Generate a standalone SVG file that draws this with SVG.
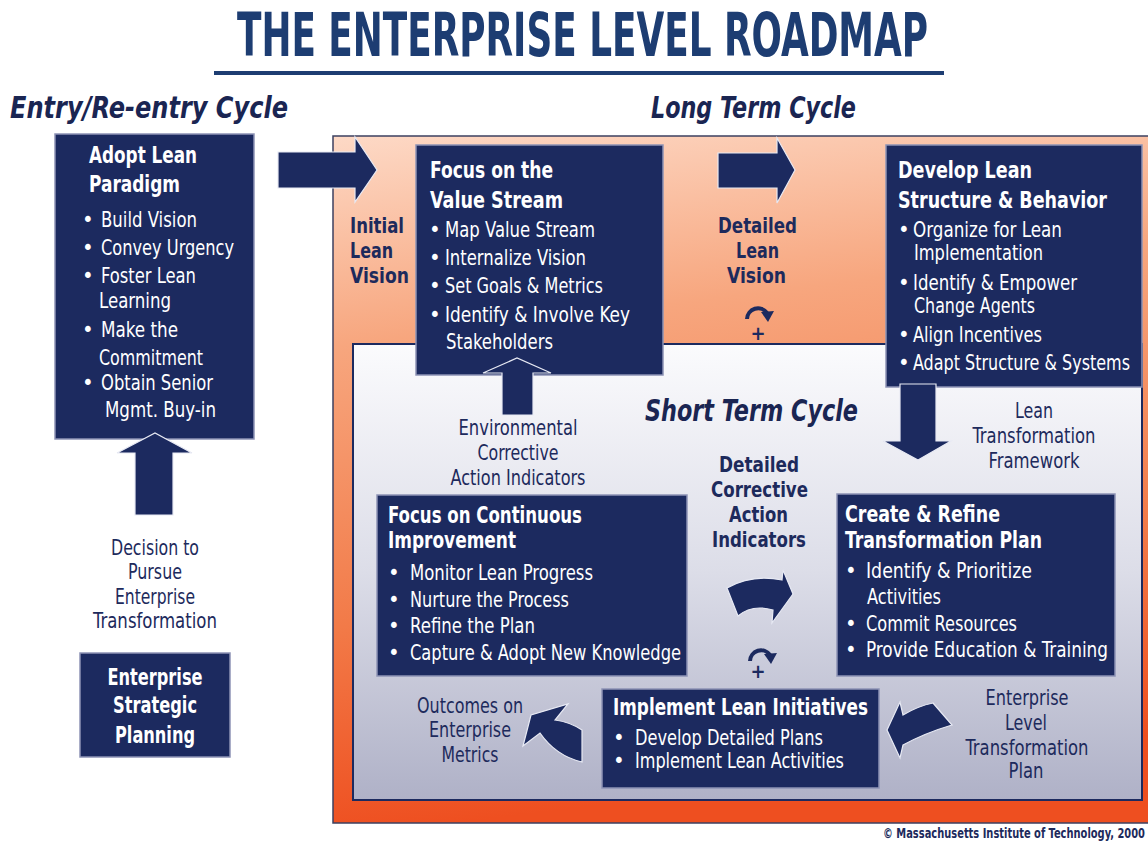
<svg xmlns="http://www.w3.org/2000/svg" width="1148" height="841" viewBox="0 0 1148 841">
<defs>
<linearGradient id="orange" x1="0" y1="0" x2="0.15" y2="1">
<stop offset="0" stop-color="#fdd9c6"/>
<stop offset="0.3" stop-color="#f7a67e"/>
<stop offset="0.7" stop-color="#f27a48"/>
<stop offset="1" stop-color="#ee4f20"/>
</linearGradient>
<linearGradient id="grey" x1="0" y1="0" x2="0" y2="1">
<stop offset="0" stop-color="#fbfbfd"/>
<stop offset="0.5" stop-color="#dcdde8"/>
<stop offset="1" stop-color="#afb1c7"/>
</linearGradient>
<style>
text{font-family:"Liberation Sans Narrow","DejaVu Sans Condensed","Liberation Sans",sans-serif}
.node{fill:#1c2a5f;stroke:#8d93b5;stroke-width:1.5}
.nt{font-weight:bold;font-size:23px;fill:#ffffff}
.nb{font-size:22px;fill:#ffffff}
.ns{font-size:21px;fill:#ffffff}
.bu{font-size:22px;fill:#ffffff}
.lbl{font-size:22px;fill:#1d2a5c;text-anchor:middle}
.blbl{font-weight:bold;font-size:20.5px;fill:#1d2a5c}
.cyc{font-weight:bold;font-style:italic;font-size:31px;fill:#1a2552}
.arrow{fill:#1c2a5f;stroke:#e8eaf4;stroke-width:1.2;stroke-linejoin:miter}
.arc{fill:none;stroke:#1c2a5f;stroke-width:4}
.plus{font-weight:bold;font-size:20px;fill:#1c2a5f;text-anchor:middle}
</style>
</defs>
<rect x="0" y="0" width="1148" height="841" fill="#ffffff"/>

<g id="title">
<text transform="translate(237,56) scale(1,1.15)" x="0" y="0" font-size="52" font-weight="bold" fill="#1d3d72" textLength="691" lengthAdjust="spacingAndGlyphs">THE ENTERPRISE LEVEL ROADMAP</text>
<rect x="214" y="71" width="730" height="4" fill="#1d3d72"/>
<text class="cyc" x="10" y="118" textLength="278" lengthAdjust="spacingAndGlyphs">Entry/Re-entry Cycle</text>
<text class="cyc" x="651" y="118" textLength="205" lengthAdjust="spacingAndGlyphs">Long Term Cycle</text>
</g>

<g id="long-term-cycle">
<rect x="333" y="136" width="820" height="687" fill="url(#orange)" stroke="#3c4060" stroke-width="1.5"/>
</g>
<g id="short-term-cycle">
<rect x="353" y="344" width="789" height="456" fill="url(#grey)" stroke="#1c2a5f" stroke-width="2"/>
<text class="cyc" x="645" y="421" textLength="213" lengthAdjust="spacingAndGlyphs">Short Term Cycle</text>
</g>

<g id="labels">
<text class="blbl" x="350" y="233" textLength="54" lengthAdjust="spacingAndGlyphs">Initial</text>
<text class="blbl" x="350" y="258" textLength="43" lengthAdjust="spacingAndGlyphs">Lean</text>
<text class="blbl" x="350" y="283" textLength="59" lengthAdjust="spacingAndGlyphs">Vision</text>

<text class="blbl" x="718" y="233" textLength="79" lengthAdjust="spacingAndGlyphs">Detailed</text>
<text class="blbl" x="736" y="258" textLength="43" lengthAdjust="spacingAndGlyphs">Lean</text>
<text class="blbl" x="727" y="283" textLength="59" lengthAdjust="spacingAndGlyphs">Vision</text>

<text class="blbl" x="719" y="472" textLength="80" lengthAdjust="spacingAndGlyphs">Detailed</text>
<text class="blbl" x="711" y="497" textLength="97" lengthAdjust="spacingAndGlyphs">Corrective</text>
<text class="blbl" x="729" y="522" textLength="59" lengthAdjust="spacingAndGlyphs">Action</text>
<text class="blbl" x="712" y="547" textLength="94" lengthAdjust="spacingAndGlyphs">Indicators</text>

<text class="lbl" x="518" y="435" textLength="119" lengthAdjust="spacingAndGlyphs">Environmental</text>
<text class="lbl" x="518" y="460" textLength="81" lengthAdjust="spacingAndGlyphs">Corrective</text>
<text class="lbl" x="518" y="485" textLength="135" lengthAdjust="spacingAndGlyphs">Action Indicators</text>

<text class="lbl" x="1034" y="418" textLength="38" lengthAdjust="spacingAndGlyphs">Lean</text>
<text class="lbl" x="1034" y="443" textLength="123" lengthAdjust="spacingAndGlyphs">Transformation</text>
<text class="lbl" x="1034" y="468" textLength="91" lengthAdjust="spacingAndGlyphs">Framework</text>

<text class="lbl" x="155" y="555" textLength="88" lengthAdjust="spacingAndGlyphs">Decision to</text>
<text class="lbl" x="155" y="579" textLength="54" lengthAdjust="spacingAndGlyphs">Pursue</text>
<text class="lbl" x="155" y="604" textLength="80" lengthAdjust="spacingAndGlyphs">Enterprise</text>
<text class="lbl" x="155" y="628" textLength="124" lengthAdjust="spacingAndGlyphs">Transformation</text>

<text class="lbl" x="470" y="713" textLength="106" lengthAdjust="spacingAndGlyphs">Outcomes on</text>
<text class="lbl" x="470" y="737" textLength="82" lengthAdjust="spacingAndGlyphs">Enterprise</text>
<text class="lbl" x="470" y="762" textLength="57" lengthAdjust="spacingAndGlyphs">Metrics</text>

<text class="lbl" x="1027" y="705" textLength="83" lengthAdjust="spacingAndGlyphs">Enterprise</text>
<text class="lbl" x="1026" y="730" textLength="42" lengthAdjust="spacingAndGlyphs">Level</text>
<text class="lbl" x="1027" y="755" textLength="123" lengthAdjust="spacingAndGlyphs">Transformation</text>
<text class="lbl" x="1026" y="778" textLength="35" lengthAdjust="spacingAndGlyphs">Plan</text>

<text transform="translate(883,838) scale(1,1.3)" x="0" y="0" font-size="10.5" font-weight="bold" fill="#1d2a5c" textLength="262" lengthAdjust="spacingAndGlyphs">© Massachusetts Institute of Technology, 2000</text>
</g>

<g id="adopt-lean-paradigm">
<rect class="node" x="55" y="134" width="199" height="305"/>
<text class="nt" x="89" y="163" textLength="108" lengthAdjust="spacingAndGlyphs">Adopt Lean</text>
<text class="nt" x="89" y="192" textLength="91" lengthAdjust="spacingAndGlyphs">Paradigm</text>
<text class="bu" x="82" y="227">•</text>
<text class="nb" x="101" y="227" textLength="96" lengthAdjust="spacingAndGlyphs">Build Vision</text>
<text class="bu" x="82" y="255">•</text>
<text class="nb" x="101" y="255" textLength="133" lengthAdjust="spacingAndGlyphs">Convey Urgency</text>
<text class="bu" x="82" y="283">•</text>
<text class="nb" x="101" y="283" textLength="95" lengthAdjust="spacingAndGlyphs">Foster Lean</text>
<text class="nb" x="99" y="308" textLength="72" lengthAdjust="spacingAndGlyphs">Learning</text>
<text class="bu" x="82" y="337">•</text>
<text class="nb" x="101" y="337" textLength="77" lengthAdjust="spacingAndGlyphs">Make the</text>
<text class="nb" x="99" y="365" textLength="104" lengthAdjust="spacingAndGlyphs">Commitment</text>
<text class="bu" x="82" y="390">•</text>
<text class="nb" x="101" y="390" textLength="112" lengthAdjust="spacingAndGlyphs">Obtain Senior</text>
<text class="nb" x="105" y="417" textLength="111" lengthAdjust="spacingAndGlyphs">Mgmt. Buy-in</text>
</g>

<g id="enterprise-strategic-planning">
<rect class="node" x="80" y="653" width="150" height="104"/>
<text class="nt" x="155" y="685" text-anchor="middle" textLength="95" lengthAdjust="spacingAndGlyphs">Enterprise</text>
<text class="nt" x="155" y="713" text-anchor="middle" textLength="84" lengthAdjust="spacingAndGlyphs">Strategic</text>
<text class="nt" x="155" y="743" text-anchor="middle" textLength="80" lengthAdjust="spacingAndGlyphs">Planning</text>
</g>

<g id="focus-value-stream">
<rect class="node" x="416" y="145" width="247" height="230"/>
<text class="nt" x="430" y="178" textLength="123" lengthAdjust="spacingAndGlyphs">Focus on the</text>
<text class="nt" x="430" y="208" textLength="133" lengthAdjust="spacingAndGlyphs">Value Stream</text>
<text class="bu" x="429" y="237">•</text>
<text class="nb" x="445" y="237" textLength="150" lengthAdjust="spacingAndGlyphs">Map Value Stream</text>
<text class="bu" x="429" y="265">•</text>
<text class="nb" x="445" y="265" textLength="141" lengthAdjust="spacingAndGlyphs">Internalize Vision</text>
<text class="bu" x="429" y="293">•</text>
<text class="nb" x="445" y="293" textLength="158" lengthAdjust="spacingAndGlyphs">Set Goals &amp; Metrics</text>
<text class="bu" x="429" y="322">•</text>
<text class="nb" x="445" y="322" textLength="185" lengthAdjust="spacingAndGlyphs">Identify &amp; Involve Key</text>
<text class="nb" x="446" y="349" textLength="107" lengthAdjust="spacingAndGlyphs">Stakeholders</text>
</g>

<g id="develop-lean-structure">
<rect class="node" x="886" y="145" width="256" height="242"/>
<text class="nt" x="898" y="178" textLength="134" lengthAdjust="spacingAndGlyphs">Develop Lean</text>
<text transform="translate(898,208) scale(1,1.1)" x="0" y="0" font-size="21" font-weight="bold" fill="#ffffff" textLength="209" lengthAdjust="spacingAndGlyphs">Structure &amp; Behavior</text>
<text class="bu" x="898" y="237">•</text>
<text class="ns" x="913" y="237" textLength="149" lengthAdjust="spacingAndGlyphs">Organize for Lean</text>
<text class="ns" x="914" y="260" textLength="129" lengthAdjust="spacingAndGlyphs">Implementation</text>
<text class="bu" x="898" y="290">•</text>
<text class="ns" x="913" y="290" textLength="164" lengthAdjust="spacingAndGlyphs">Identify &amp; Empower</text>
<text class="ns" x="914" y="313" textLength="121" lengthAdjust="spacingAndGlyphs">Change Agents</text>
<text class="bu" x="898" y="342">•</text>
<text class="ns" x="913" y="342" textLength="129" lengthAdjust="spacingAndGlyphs">Align Incentives</text>
<text class="bu" x="898" y="370">•</text>
<text transform="translate(913,370) scale(1,1.2)" x="0" y="0" font-size="18" fill="#ffffff" textLength="217" lengthAdjust="spacingAndGlyphs">Adapt Structure &amp; Systems</text>
</g>

<g id="focus-continuous-improvement">
<rect class="node" x="377" y="495" width="310" height="181"/>
<text class="nt" x="388" y="523" textLength="194" lengthAdjust="spacingAndGlyphs">Focus on Continuous</text>
<text class="nt" x="388" y="548" textLength="128" lengthAdjust="spacingAndGlyphs">Improvement</text>
<text class="bu" x="388" y="580">•</text>
<text class="nb" x="410" y="580" textLength="183" lengthAdjust="spacingAndGlyphs">Monitor Lean Progress</text>
<text class="bu" x="388" y="607">•</text>
<text class="nb" x="410" y="607" textLength="159" lengthAdjust="spacingAndGlyphs">Nurture the Process</text>
<text class="bu" x="388" y="633">•</text>
<text class="nb" x="410" y="633" textLength="125" lengthAdjust="spacingAndGlyphs">Refine the Plan</text>
<text class="bu" x="388" y="660">•</text>
<text class="nb" x="410" y="660" textLength="271" lengthAdjust="spacingAndGlyphs">Capture &amp; Adopt New Knowledge</text>
</g>

<g id="create-refine-plan">
<rect class="node" x="837" y="494" width="278" height="182"/>
<text class="nt" x="845" y="522" textLength="155" lengthAdjust="spacingAndGlyphs">Create &amp; Refine</text>
<text class="nt" x="845" y="548" textLength="197" lengthAdjust="spacingAndGlyphs">Transformation Plan</text>
<text class="bu" x="845" y="578">•</text>
<text class="nb" x="866" y="578" textLength="166" lengthAdjust="spacingAndGlyphs">Identify &amp; Prioritize</text>
<text class="nb" x="867" y="604" textLength="74" lengthAdjust="spacingAndGlyphs">Activities</text>
<text class="bu" x="845" y="631">•</text>
<text class="nb" x="866" y="631" textLength="151" lengthAdjust="spacingAndGlyphs">Commit Resources</text>
<text class="bu" x="845" y="657">•</text>
<text transform="translate(866,657) scale(1,1.1)" x="0" y="0" font-size="19.5" fill="#ffffff" textLength="242" lengthAdjust="spacingAndGlyphs">Provide Education &amp; Training</text>
</g>

<g id="implement-lean-initiatives">
<rect class="node" x="602" y="689" width="277" height="99"/>
<text class="nt" x="613" y="715" textLength="255" lengthAdjust="spacingAndGlyphs">Implement Lean Initiatives</text>
<text class="bu" x="613" y="745">•</text>
<text class="ns" x="635" y="745" textLength="188" lengthAdjust="spacingAndGlyphs">Develop Detailed Plans</text>
<text class="bu" x="613" y="768">•</text>
<text class="ns" x="635" y="768" textLength="209" lengthAdjust="spacingAndGlyphs">Implement Lean Activities</text>
</g>

<g id="connectors">
<polygon class="arrow" points="278,152 355,152 355,137 377,170 355,202 355,188 278,188"/>
<polygon class="arrow" points="718,153 777,153 777,138 795,170 777,203 777,188 718,188"/>
<polygon class="arrow" points="135,515 135,453 117,453 155,433 192,453 173,453 173,515"/>
<polygon class="arrow" points="502,415 502,373 483,373 517,358 551,373 533,373 533,415"/>
<polygon class="arrow" points="900,384 936,384 936,441 951,441 918,460 883,441 900,441"/>
<path class="arrow" d="M 727 588 Q 752 574 782 580 L 783 570 L 793 594 L 772 623 L 773 610 Q 752 604 738 616 Z"/>
<path class="arrow" d="M 887 730 L 900 702 L 903 715 Q 918 706 933 703 L 952 725 Q 925 733 903 745 L 900 758 Z"/>
<path class="arrow" d="M 523 746 L 531 715 L 568 704 L 555 720 Q 570 722 582 730 L 582 762 Q 556 756 540 733 Z"/>
<g transform="translate(758,314)">
<path class="arc" d="M -11 5 A 11 11 0 0 1 9 -1"/>
<polygon points="3,-2 16,-3 10,8" fill="#1c2a5f"/>
<text class="plus" x="0" y="26">+</text>
</g>
<g transform="translate(761,656)">
<path class="arc" d="M -11 5 A 11 11 0 0 1 9 -1"/>
<polygon points="3,-2 16,-3 10,8" fill="#1c2a5f"/>
<text class="plus" x="-3" y="22">+</text>
</g>
</g>
</svg>
